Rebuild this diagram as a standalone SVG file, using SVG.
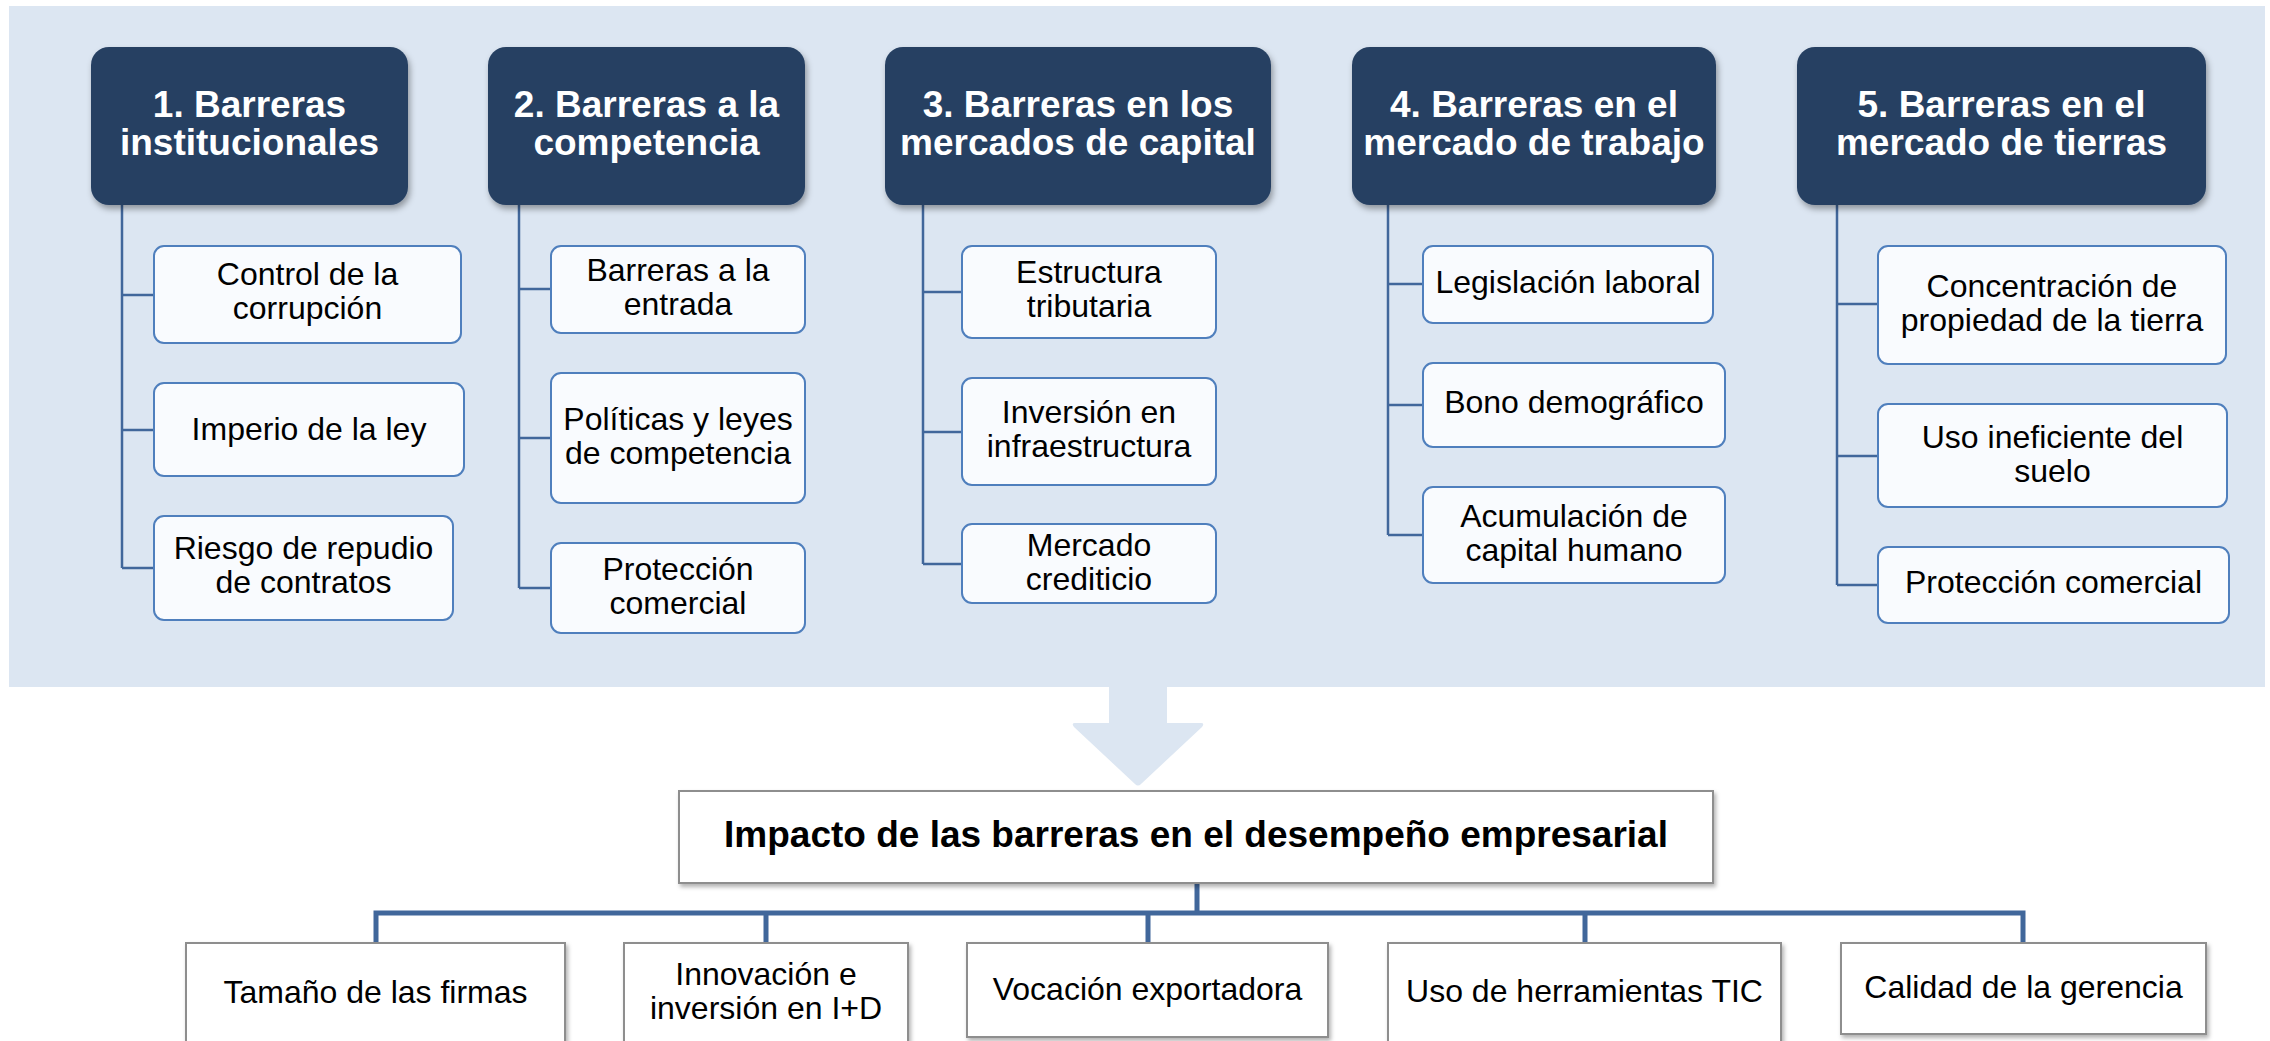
<svg xmlns="http://www.w3.org/2000/svg" width="2270" height="1041" viewBox="0 0 2270 1041">
<defs>
<filter id="hsh" x="-10%" y="-10%" width="120%" height="130%">
<feDropShadow dx="2" dy="4" stdDeviation="3" flood-color="#000" flood-opacity="0.35"/>
</filter>
<filter id="bsh" x="-10%" y="-10%" width="120%" height="130%">
<feDropShadow dx="2" dy="3" stdDeviation="2" flood-color="#000" flood-opacity="0.3"/>
</filter>
<style>
.head{fill:#274062;}
.ht{font-family:"Liberation Sans",Arial,sans-serif;font-weight:bold;font-size:37px;fill:#ffffff;text-anchor:middle;}
.sub{fill:#F9FBFE;stroke:#4F7FBD;stroke-width:2;}
.st{font-family:"Liberation Sans",Arial,sans-serif;font-size:32px;fill:#000;text-anchor:middle;}
.bx{fill:#ffffff;stroke:#8E8E8E;stroke-width:2;}
.bt{font-family:"Liberation Sans",Arial,sans-serif;font-size:32px;fill:#000;text-anchor:middle;}
.it{font-family:"Liberation Sans",Arial,sans-serif;font-weight:bold;font-size:37px;fill:#000;text-anchor:middle;}
.ln{fill:none;stroke:#41679B;stroke-width:2.5;}
.lnb{fill:none;stroke:#41679B;stroke-width:5;}
</style>
</defs>
<rect x="0" y="0" width="2270" height="1041" fill="#ffffff"/>
<g id="background">
<rect x="9" y="6" width="2256" height="681" fill="#DCE6F2"/>
<path d="M1109 686 L1167 686 L1167 723 L1201 723 Q1205 723 1202 727 L1141 784 Q1138 787 1135 784 L1074 727 Q1071 723 1075 723 L1109 723 Z" fill="#DCE6F2"/>
</g>
<g id="connectors">
<path class="ln" d="M122 205 V568 M122 295 H154 M122 430 H154 M122 568 H154"/>
<path class="ln" d="M519 205 V588 M519 289 H551 M519 438 H551 M519 588 H551"/>
<path class="ln" d="M923 205 V564 M923 292 H962 M923 432 H962 M923 564 H962"/>
<path class="ln" d="M1388 205 V535 M1388 284 H1423 M1388 405 H1423 M1388 535 H1423"/>
<path class="ln" d="M1837 205 V585 M1837 304 H1878 M1837 456 H1878 M1837 585 H1878"/>
<path class="lnb" d="M1197 883 V913 M376 943 V913 H2023 V943 M766 913 V943 M1148 913 V943 M1585 913 V943"/>
</g>
<g id="h1"><rect class="head" filter="url(#hsh)" x="91" y="47" width="317" height="158" rx="18"/><text class="ht" x="249.5" y="117">1. Barreras</text><text class="ht" x="249.5" y="155">institucionales</text></g>
<g id="h2"><rect class="head" filter="url(#hsh)" x="488" y="47" width="317" height="158" rx="18"/><text class="ht" x="646.5" y="117">2. Barreras a la</text><text class="ht" x="646.5" y="155">competencia</text></g>
<g id="h3"><rect class="head" filter="url(#hsh)" x="885" y="47" width="386" height="158" rx="18"/><text class="ht" x="1078" y="117">3. Barreras en los</text><text class="ht" x="1078" y="155">mercados de capital</text></g>
<g id="h4"><rect class="head" filter="url(#hsh)" x="1352" y="47" width="364" height="158" rx="18"/><text class="ht" x="1534" y="117">4. Barreras en el</text><text class="ht" x="1534" y="155">mercado de trabajo</text></g>
<g id="h5"><rect class="head" filter="url(#hsh)" x="1797" y="47" width="409" height="158" rx="18"/><text class="ht" x="2001.5" y="117">5. Barreras en el</text><text class="ht" x="2001.5" y="155">mercado de tierras</text></g>

<g id="c1a"><rect class="sub" x="154" y="246" width="307" height="97" rx="10"/><text class="st" x="307.5" y="285">Control de la</text><text class="st" x="307.5" y="319">corrupción</text></g>
<g id="c1b"><rect class="sub" x="154" y="383" width="310" height="93" rx="10"/><text class="st" x="309" y="440">Imperio de la ley</text></g>
<g id="c1c"><rect class="sub" x="154" y="516" width="299" height="104" rx="10"/><text class="st" x="303.5" y="559">Riesgo de repudio</text><text class="st" x="303.5" y="593">de contratos</text></g>

<g id="c2a"><rect class="sub" x="551" y="246" width="254" height="87" rx="10"/><text class="st" x="678" y="281">Barreras a la</text><text class="st" x="678" y="315">entrada</text></g>
<g id="c2b"><rect class="sub" x="551" y="373" width="254" height="130" rx="10"/><text class="st" x="678" y="430">Políticas y leyes</text><text class="st" x="678" y="464">de competencia</text></g>
<g id="c2c"><rect class="sub" x="551" y="543" width="254" height="90" rx="10"/><text class="st" x="678" y="580">Protección</text><text class="st" x="678" y="614">comercial</text></g>

<g id="c3a"><rect class="sub" x="962" y="246" width="254" height="92" rx="10"/><text class="st" x="1089" y="283">Estructura</text><text class="st" x="1089" y="317">tributaria</text></g>
<g id="c3b"><rect class="sub" x="962" y="378" width="254" height="107" rx="10"/><text class="st" x="1089" y="423">Inversión en</text><text class="st" x="1089" y="457">infraestructura</text></g>
<g id="c3c"><rect class="sub" x="962" y="524" width="254" height="79" rx="10"/><text class="st" x="1089" y="556">Mercado</text><text class="st" x="1089" y="590">crediticio</text></g>

<g id="c4a"><rect class="sub" x="1423" y="246" width="290" height="77" rx="10"/><text class="st" x="1568" y="293">Legislación laboral</text></g>
<g id="c4b"><rect class="sub" x="1423" y="363" width="302" height="84" rx="10"/><text class="st" x="1574" y="413">Bono demográfico</text></g>
<g id="c4c"><rect class="sub" x="1423" y="487" width="302" height="96" rx="10"/><text class="st" x="1574" y="527">Acumulación de</text><text class="st" x="1574" y="561">capital humano</text></g>

<g id="c5a"><rect class="sub" x="1878" y="246" width="348" height="118" rx="10"/><text class="st" x="2052" y="297">Concentración de</text><text class="st" x="2052" y="331">propiedad de la tierra</text></g>
<g id="c5b"><rect class="sub" x="1878" y="404" width="349" height="103" rx="10"/><text class="st" x="2052.5" y="448">Uso ineficiente del</text><text class="st" x="2052.5" y="482">suelo</text></g>
<g id="c5c"><rect class="sub" x="1878" y="547" width="351" height="76" rx="10"/><text class="st" x="2053.5" y="593">Protección comercial</text></g>

<g id="impacto"><rect class="bx" filter="url(#bsh)" x="679" y="791" width="1034" height="92"/><text class="it" x="1196" y="847">Impacto de las barreras en el desempeño empresarial</text></g>
<g id="b1"><rect class="bx" filter="url(#bsh)" x="186" y="943" width="379" height="110"/><text class="bt" x="375.5" y="1003">Tamaño de las firmas</text></g>
<g id="b2"><rect class="bx" filter="url(#bsh)" x="624" y="943" width="284" height="110"/><text class="bt" x="766" y="985">Innovación e</text><text class="bt" x="766" y="1019">inversión en I+D</text></g>
<g id="b3"><rect class="bx" filter="url(#bsh)" x="967" y="943" width="361" height="94"/><text class="bt" x="1147.5" y="1000">Vocación exportadora</text></g>
<g id="b4"><rect class="bx" filter="url(#bsh)" x="1388" y="943" width="393" height="110"/><text class="bt" x="1584.5" y="1002">Uso de herramientas TIC</text></g>
<g id="b5"><rect class="bx" filter="url(#bsh)" x="1841" y="943" width="365" height="91"/><text class="bt" x="2023.5" y="998">Calidad de la gerencia</text></g>
</svg>
